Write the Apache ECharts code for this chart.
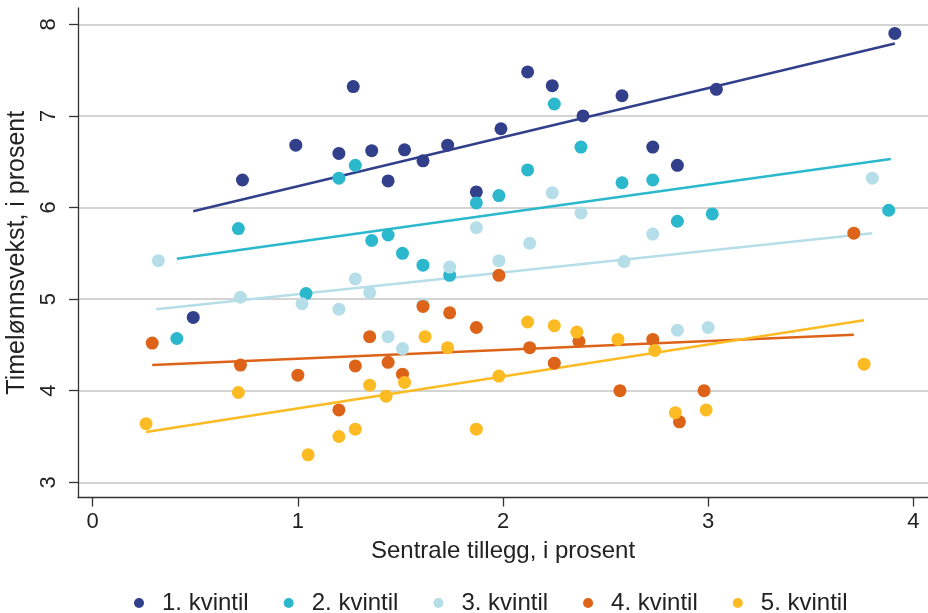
<!DOCTYPE html>
<html>
<head>
<meta charset="utf-8">
<script src="https://cdn.jsdelivr.net/npm/echarts@6/dist/echarts.min.js"></script>
<style>
html,body{margin:0;padding:0;background:#fff;}
#chart{width:928px;height:613px;}
</style>
</head>
<body>
<div id="chart"></div>
<script>
// Category names
const seriesNames = ['1. kvintil', '2. kvintil', '3. kvintil', '4. kvintil', '5. kvintil'];

// Tick labels
const xTicks = [0, 1, 2, 3, 4];
const yTicks = [3, 4, 5, 6, 7, 8];

// Scatter values (x = Sentrale tillegg, y = Timelønnsvekst)
const q1x = [0.49, 0.73, 0.99, 1.20, 1.27, 1.36, 1.44, 1.52, 1.61, 1.73, 1.87, 1.99, 2.12, 2.24, 2.39, 2.58, 2.73, 2.85, 3.04, 3.91];
const q1y = [4.80, 6.30, 6.68, 6.59, 7.32, 6.62, 6.29, 6.63, 6.51, 6.68, 6.17, 6.86, 7.48, 7.33, 7.00, 7.22, 6.66, 6.46, 7.29, 7.90];

const q2x = [0.41, 0.71, 1.04, 1.20, 1.28, 1.36, 1.44, 1.51, 1.61, 1.74, 1.87, 1.98, 2.12, 2.25, 2.38, 2.58, 2.73, 2.85, 3.02, 3.88];
const q2y = [4.57, 5.77, 5.06, 6.32, 6.46, 5.64, 5.70, 5.50, 5.37, 5.26, 6.05, 6.13, 6.41, 7.13, 6.66, 6.27, 6.30, 5.85, 5.93, 5.97];

const q3x = [0.32, 0.72, 1.02, 1.20, 1.28, 1.35, 1.44, 1.51, 1.61, 1.74, 1.87, 1.98, 2.13, 2.24, 2.38, 2.59, 2.73, 2.85, 3.00, 3.80];
const q3y = [5.42, 5.02, 4.95, 4.89, 5.22, 5.07, 4.59, 4.46, 4.94, 5.35, 5.78, 5.42, 5.61, 6.16, 5.94, 5.41, 5.71, 4.66, 4.69, 6.32];

const q4x = [0.29, 0.72, 1.00, 1.20, 1.28, 1.35, 1.44, 1.51, 1.61, 1.74, 1.87, 1.98, 2.13, 2.25, 2.37, 2.57, 2.73, 2.86, 2.98, 3.71];
const q4y = [4.52, 4.28, 4.17, 3.79, 4.27, 4.59, 4.31, 4.18, 4.92, 4.85, 4.69, 5.26, 4.47, 4.30, 4.54, 4.00, 4.56, 3.66, 4.00, 5.72];

const q5x = [0.26, 0.71, 1.05, 1.20, 1.28, 1.35, 1.43, 1.52, 1.62, 1.73, 1.87, 1.98, 2.12, 2.25, 2.36, 2.56, 2.74, 2.84, 2.99, 3.76];
const q5y = [3.64, 3.98, 3.30, 3.50, 3.58, 4.06, 3.94, 4.09, 4.59, 4.47, 3.58, 4.16, 4.75, 4.71, 4.64, 4.56, 4.44, 3.76, 3.79, 4.29];

// Fitted lines: [xStart, yStart, xEnd, yEnd]
const q1fit = [0.49, 5.96, 3.91, 7.79];
const q2fit = [0.41, 5.44, 3.89, 6.53];
const q3fit = [0.31, 4.89, 3.80, 5.72];
const q4fit = [0.29, 4.28, 3.71, 4.61];
const q5fit = [0.26, 3.55, 3.76, 4.77];

const colors = ['#323f8a', '#2bb8cd', '#b5dee9', '#dc6318', '#fcbb23'];

const xs = [q1x, q2x, q3x, q4x, q5x];
const ys = [q1y, q2y, q3y, q4y, q5y];
const fits = [q1fit, q2fit, q3fit, q4fit, q5fit];

const series = [];
fits.forEach((f, i) => {
  series.push({
    name: seriesNames[i] + ' trend',
    type: 'line',
    data: [[f[0], f[1]], [f[2], f[3]]],
    showSymbol: false,
    symbol: 'none',
    lineStyle: { color: colors[i], width: 2.5 },
    itemStyle: { color: colors[i] },
    z: 2,
    silent: true,
    animation: false
  });
});
xs.forEach((xv, i) => {
  series.push({
    name: seriesNames[i],
    type: 'scatter',
    data: xv.map((x, k) => [x, ys[i][k]]),
    symbol: 'circle',
    symbolSize: 13,
    itemStyle: { color: colors[i], opacity: 1 },
    z: 3,
    animation: false
  });
});

const font = 'Liberation Sans, Arial, sans-serif';

const chart = echarts.init(document.getElementById('chart'), null, { renderer: 'canvas' });
chart.setOption({
  backgroundColor: '#ffffff',
  animation: false,
  grid: { left: 78, right: 0, top: 8, bottom: 115.5, containLabel: false, outerBoundsMode: 'none' },
  legend: {
    data: seriesNames,
    left: 129,
    top: 586,
    icon: 'circle',
    itemWidth: 36,
    itemHeight: 10,
    itemGap: 35,
    selectedMode: false,
    textStyle: { fontFamily: font, fontSize: 24, color: '#222' }
  },
  xAxis: {
    type: 'value',
    min: -0.0717,
    max: 4.0716,
    name: 'Sentrale tillegg, i prosent',
    nameLocation: 'middle',
    nameGap: 42,
    nameTextStyle: { fontFamily: font, fontSize: 24, color: '#222' },
    axisLine: { show: true, onZero: false, lineStyle: { color: '#333', width: 1.3 } },
    axisTick: { show: true, length: 9, customValues: xTicks, lineStyle: { color: '#333', width: 1.3 } },
    axisLabel: { customValues: xTicks, fontFamily: font, fontSize: 22, color: '#222', margin: 13 },
    splitLine: { show: false }
  },
  yAxis: {
    type: 'value',
    min: 2.834,
    max: 8.178,
    name: 'Timelønnsvekst, i prosent',
    nameLocation: 'middle',
    nameGap: 41,
    nameRotate: 90,
    nameTextStyle: { fontFamily: font, fontSize: 25, color: '#222' },
    axisLine: { show: true, onZero: false, lineStyle: { color: '#333', width: 1.3 } },
    axisTick: { show: true, length: 9, customValues: yTicks, lineStyle: { color: '#333', width: 1.3 } },
    axisLabel: { customValues: yTicks, rotate: 90, fontFamily: font, fontSize: 22, color: '#222', margin: 18 },
    splitLine: { show: true, lineStyle: { color: '#c6c6c6', width: 1.5 } }
  },
  series: series
});
</script>
</body>
</html>
